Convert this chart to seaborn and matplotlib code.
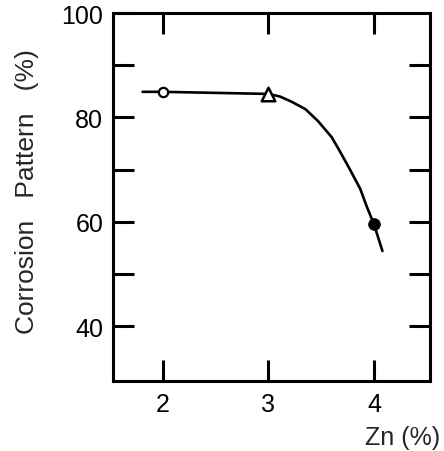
import matplotlib
matplotlib.use("Agg")
import matplotlib.pyplot as plt
import seaborn as sns
import pandas as pd
from matplotlib.ticker import FixedLocator

# Measured samples (Zn content vs. corrosion pattern)
zn_open_circle = [2.0]
pct_open_circle = [84.9]
zn_triangle = [3.0]
pct_triangle = [84.5]
zn_filled = [4.0]
pct_filled = [59.5]

# Trend curve traced through the samples
curve_zn = [1.81, 2.0, 2.5, 3.0, 3.11, 3.22, 3.35, 3.47, 3.60, 3.68,
            3.77, 3.87, 3.93, 4.0, 4.08]
curve_pct = [84.9, 84.9, 84.7, 84.5, 84.0, 83.0, 81.6, 79.3, 76.2, 73.4,
             70.1, 66.3, 63.0, 59.5, 54.4]

x_ticks = [2, 3, 4]
x_tick_labels = ["2", "3", "4"]
y_major = [40, 60, 80, 100]
y_minor = [50, 70, 90]
y_right = [40, 50, 60, 70, 80, 90]

sns.set_style("ticks")
plt.rcParams["font.family"] = ["Liberation Sans", "DejaVu Sans"]

fig = plt.figure(figsize=(4.44, 4.52), dpi=100)
ax = fig.add_axes([0.2545, 0.1549, 0.714, 0.8141])

curve = pd.DataFrame({"zn": curve_zn, "pct": curve_pct})
sns.lineplot(data=curve, x="zn", y="pct", sort=False, color="black",
             linewidth=1.9, ax=ax, zorder=2)

sns.scatterplot(x=zn_open_circle, y=pct_open_circle, marker="o", s=45,
                facecolor="white", edgecolor="black", linewidth=1.6, ax=ax, zorder=3)
sns.scatterplot(x=zn_triangle, y=pct_triangle, marker="^", s=95,
                facecolor="white", edgecolor="black", linewidth=1.8, ax=ax, zorder=3)
sns.scatterplot(x=zn_filled, y=pct_filled, marker="o", s=70,
                color="black", edgecolor="black", ax=ax, zorder=3)

ax.set_xlim(1.53, 4.53)
ax.set_ylim(29.5, 100)

ax.set_xticks(x_ticks)
ax.set_xticklabels(x_tick_labels)
ax.set_yticks(y_major)
ax.yaxis.set_minor_locator(FixedLocator(y_minor))

for side in ["left", "right", "top", "bottom"]:
    ax.spines[side].set_linewidth(2.2)
    ax.spines[side].set_color("black")

ax.tick_params(axis="both", which="both", direction="in", length=15, width=2.2,
               color="black", labelsize=18, labelcolor="black")
ax.tick_params(axis="x", which="both", top=True, pad=8)
ax.tick_params(axis="y", which="both", pad=7)

# right-hand ticks at every 10 % without labels
ax_r = ax.twinx()
ax_r.set_ylim(ax.get_ylim())
ax_r.set_yticks(y_right)
ax_r.set_yticklabels([])
ax_r.tick_params(axis="y", direction="in", length=15, width=2.2, color="black")
for side in ["left", "right", "top", "bottom"]:
    ax_r.spines[side].set_visible(False)

ax.set_xlabel("")
ax.set_ylabel("")
fig.text(0.061, 1 - 192 / 452, "Corrosion   Pattern   (%)", rotation=90,
         ha="center", va="center", fontsize=19)
fig.text(403 / 444, 1 - 438 / 452, "Zn (%)", ha="center", va="center", fontsize=18)

fig.savefig("out.png", dpi=100)
